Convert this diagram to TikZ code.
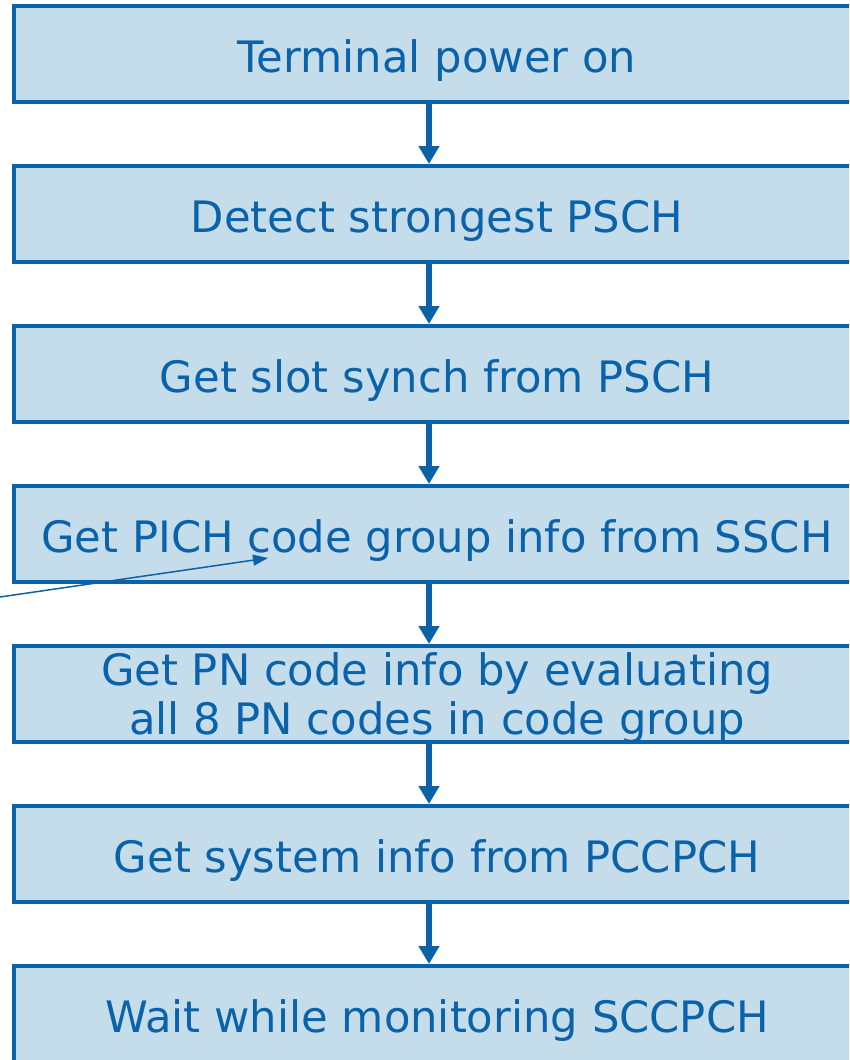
\documentclass[tikz,border=0pt]{standalone}
\usepackage{fontspec}
\setmainfont{DejaVu Sans}
\usetikzlibrary{arrows.meta}
\definecolor{bb}{HTML}{0A62AA}
\definecolor{bf}{HTML}{C5DDEB}
\begin{document}
\begin{tikzpicture}[x=1pt,y=-1pt,
  stepbox/.style={draw=bb, fill=bf, line width=4pt, minimum width=846pt, minimum height=96pt,
    inner sep=0pt},
  steptext/.style={inner sep=0pt, text=bb, font=\fontsize{43.3}{49}\selectfont, align=center},
  bigarrow/.style={draw=bb, line width=6pt, -{Triangle[width=20pt,length=18pt]}},
  thinarrow/.style={draw=bb, line width=1.5pt, -{Triangle[width=11pt,length=15pt]}}]
\useasboundingbox (0,0) rectangle (849,1060);
\clip (0,0) rectangle (849,1060);
\node[stepbox] (b1) at (437,54) {};
\node[stepbox] (b2) at (437,214) {};
\node[stepbox] (b3) at (437,374) {};
\node[stepbox] (b4) at (437,534) {};
\node[stepbox] (b5) at (437,694) {};
\node[stepbox] (b6) at (437,854) {};
\node[stepbox] (b7) at (437,1014) {};
\node[steptext, anchor=base] (t1) at ([yshift=-18pt]b1.center) {Terminal power on};
\node[steptext, anchor=base] (t2) at ([yshift=-18pt]b2.center) {Detect strongest PSCH};
\node[steptext, anchor=base] (t3) at ([yshift=-18pt]b3.center) {Get slot synch from PSCH};
\node[steptext, anchor=base] (t4) at ([yshift=-18pt]b4.center) {Get PICH code group info from SSCH};
\node[steptext] (t5) at ([yshift=-4pt]b5.center) {Get PN code info by evaluating\\all 8 PN codes in code group};
\node[steptext, anchor=base] (t6) at ([yshift=-18pt]b6.center) {Get system info from PCCPCH};
\node[steptext, anchor=base] (t7) at ([yshift=-18pt]b7.center) {Wait while monitoring SCCPCH};
\foreach \a/\b in {b1/b2,b2/b3,b3/b4,b4/b5,b5/b6,b6/b7}
  \draw[bigarrow] ([xshift=-8pt]\a.south) -- ([xshift=-8pt]\b.north);
\coordinate (p) at (0,597);
\coordinate (q) at (268,558);
\draw[thinarrow] (p) -- (q);
\end{tikzpicture}
\end{document}
